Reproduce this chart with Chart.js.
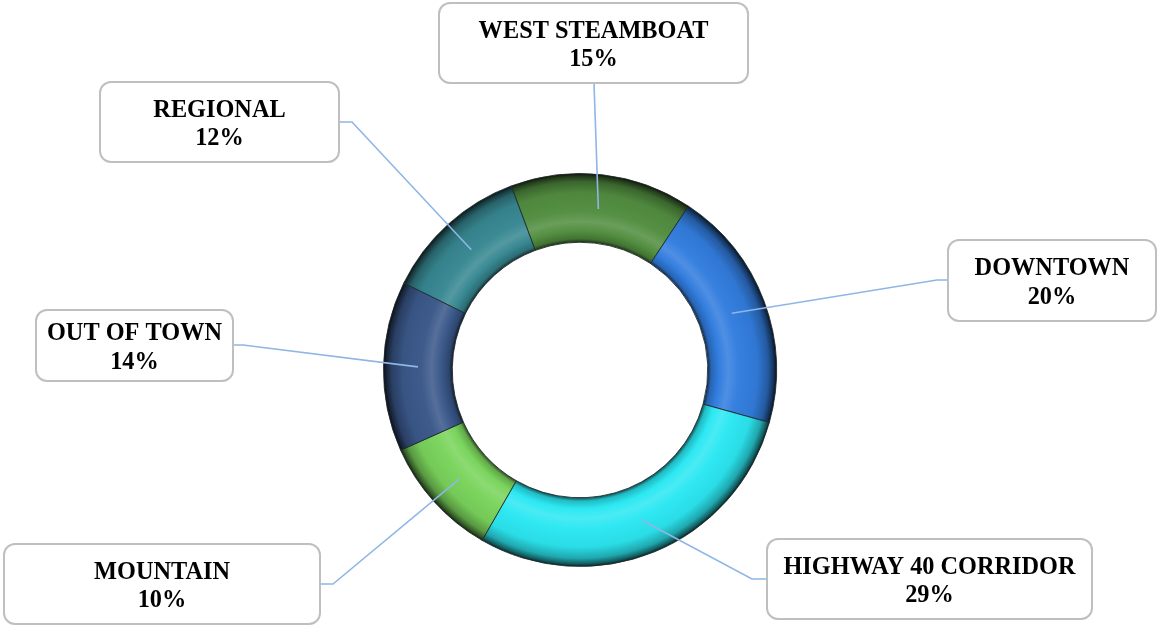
<!DOCTYPE html>
<html>
<head>
<meta charset="utf-8">
<script src="https://cdn.jsdelivr.net/npm/chart.js@4.4.1/dist/chart.umd.min.js"></script>
<style>
  html, body { margin: 0; padding: 0; background: #ffffff; }
  #wrap { position: relative; width: 1157px; height: 626px; }
</style>
</head>
<body>
<div id="wrap"><canvas id="c" width="1157" height="626"></canvas></div>
<script>
// ---- data ----
const categories = ['WEST STEAMBOAT', 'DOWNTOWN', 'HIGHWAY 40 CORRIDOR', 'MOUNTAIN', 'OUT OF TOWN', 'REGIONAL'];
const shares = [15, 20, 29, 10, 14, 12];
const percentLabels = ['15%', '20%', '29%', '10%', '14%', '12%'];

// ---- styles / layout ----
const baseColors = [
  [82, 142, 64],   // west steamboat
  [50, 125, 222],  // downtown
  [44, 232, 242],  // highway 40
  [122, 212, 92],  // mountain
  [58, 88, 138],   // out of town
  [56, 136, 146]   // regional
];
// label boxes: x, y, w, h ; leader start and elbow
const boxLayout = [
  { x: 439, y: 3,   w: 309, h: 80, sx: 594, sy: 83,  ex: 594, ey: 83 },
  { x: 948, y: 240, w: 208, h: 81, sx: 948, sy: 280, ex: 937, ey: 280 },
  { x: 767, y: 539, w: 325, h: 80, sx: 767, sy: 579, ex: 752, ey: 579 },
  { x: 4,   y: 544, w: 316, h: 80, sx: 320, sy: 584, ex: 333, ey: 584 },
  { x: 36,  y: 310, w: 197, h: 71, sx: 233, sy: 345, ex: 243, ey: 345 },
  { x: 100, y: 82,  w: 239, h: 80, sx: 339, sy: 122, ex: 352, ey: 122 }
];

function shade(c, f) {
  return 'rgb(' + c.map(v => Math.max(0, Math.min(255, Math.round(f >= 1 ? v + (255 - v) * (f - 1) : v * f)))).join(',') + ')';
}

const CUTOUT = 0.65;

function segGradient(context) {
  const chart = context.chart;
  const a = chart.chartArea;
  const i = context.dataIndex;
  const c = baseColors[i];
  if (!a) return shade(c, 1);
  const cx = (a.left + a.right) / 2, cy = (a.top + a.bottom) / 2;
  const outer = Math.min(a.right - a.left, a.bottom - a.top) / 2 - 0.5;
  const inner = outer * CUTOUT;
  const g = chart.ctx.createRadialGradient(cx, cy, inner, cx, cy, outer);
  g.addColorStop(0.0, shade(c, 0.35));
  g.addColorStop(0.05, shade(c, 0.8));
  g.addColorStop(0.16, shade(c, 1.0));
  g.addColorStop(0.30, shade(c, 1.14));
  g.addColorStop(0.45, shade(c, 1.02));
  g.addColorStop(0.72, shade(c, 0.95));
  g.addColorStop(0.88, shade(c, 0.72));
  g.addColorStop(0.96, shade(c, 0.4));
  g.addColorStop(1.0, shade(c, 0.15));
  return g;
}

const labelPlugin = {
  id: 'calloutLabels',
  afterDatasetsDraw(chart) {
    const ctx = chart.ctx;
    const meta = chart.getDatasetMeta(0);
    ctx.save();
    meta.data.forEach((arc, i) => {
      const p = arc.tooltipPosition();
      const L = boxLayout[i];
      ctx.beginPath();
      ctx.strokeStyle = '#8fb6e6';
      ctx.lineWidth = 1.6;
      ctx.moveTo(L.sx, L.sy);
      ctx.lineTo(L.ex, L.ey);
      ctx.lineTo(p.x, p.y);
      ctx.stroke();
    });
    meta.data.forEach((arc, i) => {
      const L = boxLayout[i];
      ctx.beginPath();
      if (ctx.roundRect) ctx.roundRect(L.x, L.y, L.w, L.h, 11);
      else ctx.rect(L.x, L.y, L.w, L.h);
      ctx.fillStyle = '#ffffff';
      ctx.fill();
      ctx.strokeStyle = '#bfbfbf';
      ctx.lineWidth = 2;
      ctx.stroke();
      const cx = L.x + L.w / 2;
      const cy = L.y + L.h / 2;
      ctx.fillStyle = '#000000';
      ctx.font = 'bold 24.3px "Liberation Serif", "Times New Roman", serif';
      ctx.textAlign = 'center';
      ctx.textBaseline = 'alphabetic';
      ctx.fillText(chart.data.labels[i], cx, cy - 5.3);
      ctx.fillText(percentLabels[i], cx, cy + 23.2);
    });
    ctx.restore();
  }
};

new Chart(document.getElementById('c'), {
  type: 'doughnut',
  data: {
    labels: categories,
    datasets: [{
      data: shares,
      backgroundColor: segGradient,
      borderColor: 'rgba(30,40,40,0.85)',
      borderWidth: 1,
      hoverOffset: 0
    }]
  },
  options: {
    responsive: false,
    animation: false,
    rotation: -20.5,
    cutout: (CUTOUT * 100) + '%',
    layout: { padding: { left: 383, right: 380, top: 173, bottom: 59 } },
    plugins: {
      legend: { display: false },
      tooltip: { enabled: false },
      title: { display: false }
    }
  },
  plugins: [labelPlugin]
});
</script>
</body>
</html>
